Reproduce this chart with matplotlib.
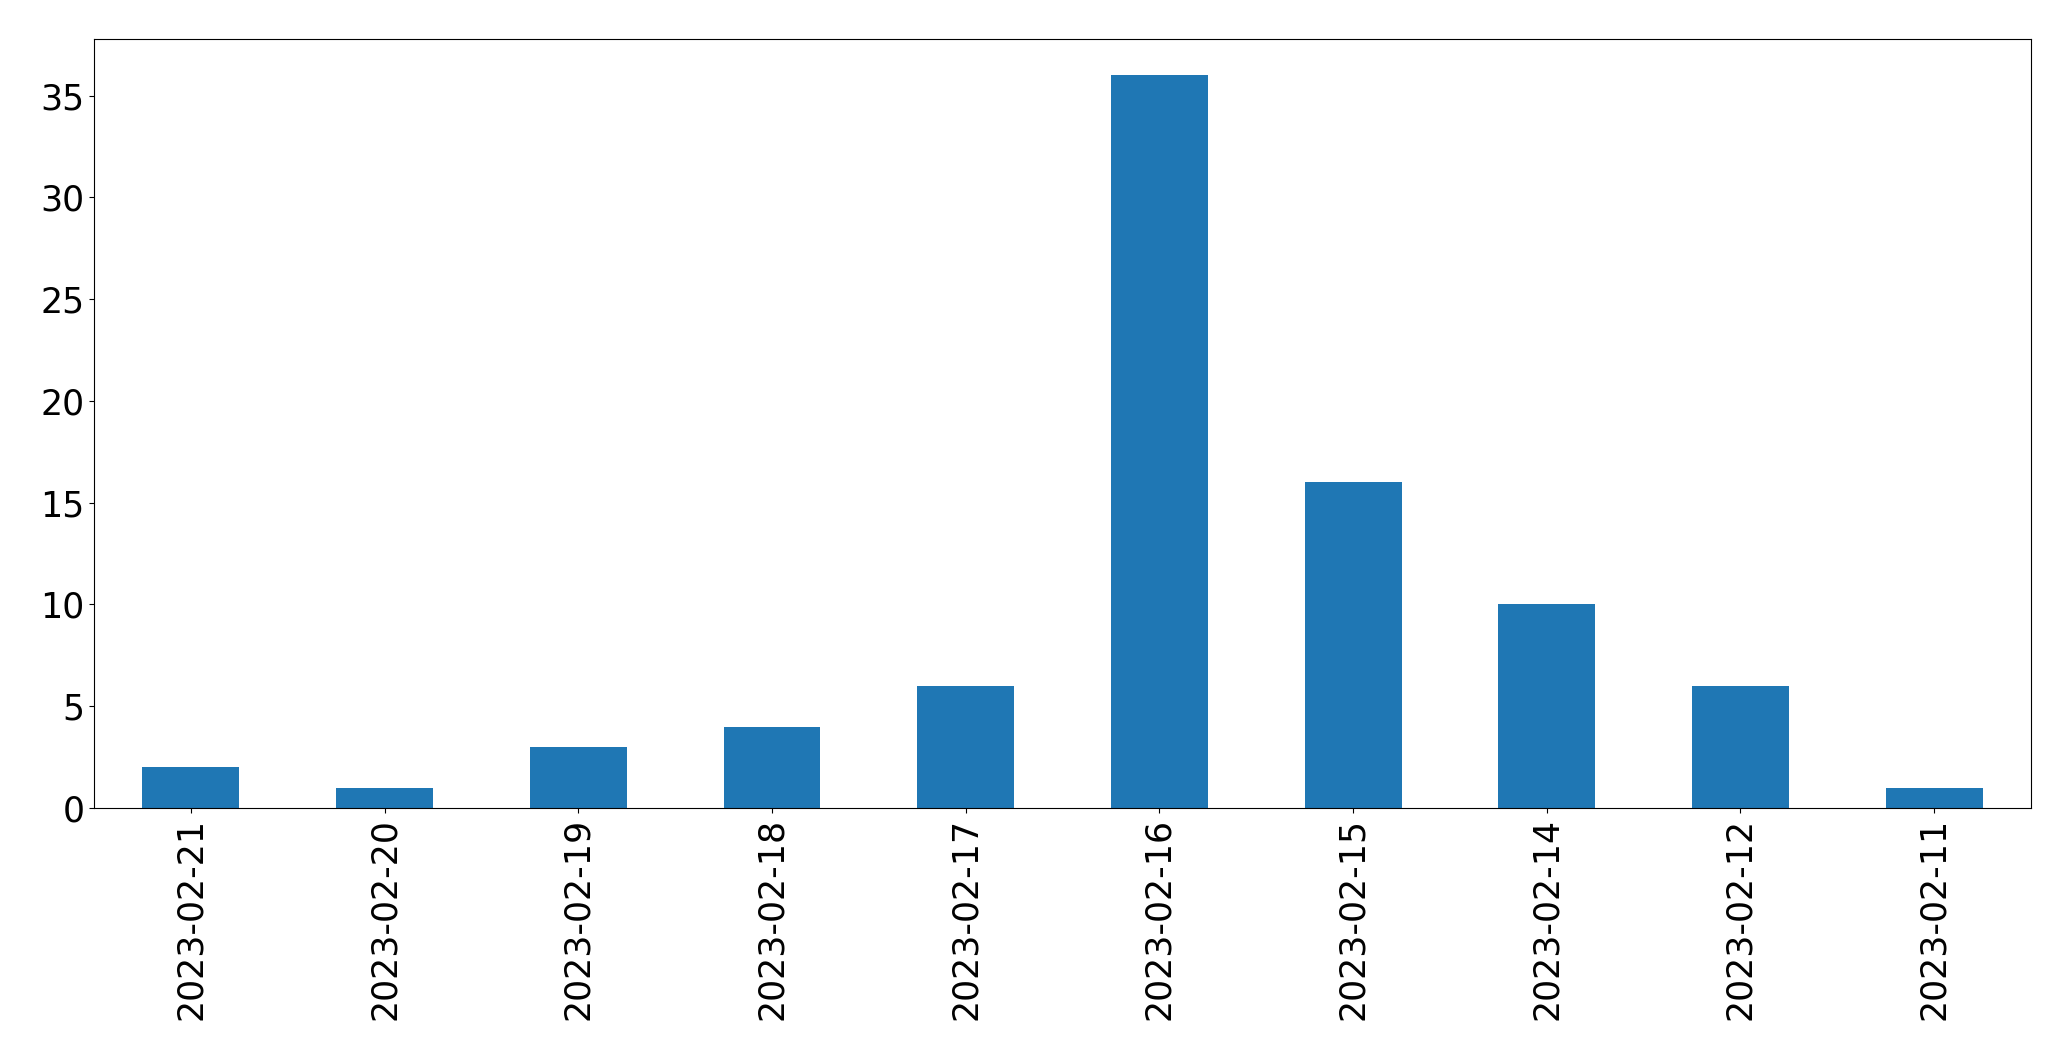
import matplotlib
matplotlib.use("Agg")
import matplotlib.pyplot as plt

dates = ["2023-02-21", "2023-02-20", "2023-02-19", "2023-02-18", "2023-02-17",
         "2023-02-16", "2023-02-15", "2023-02-14", "2023-02-12", "2023-02-11"]
counts = [2, 1, 3, 4, 6, 36, 16, 10, 6, 1]

fig = plt.figure(figsize=(20.71, 10.61), dpi=100)
ax = fig.add_axes([0.0454, 0.2385, 0.9353, 0.7250])

x = range(len(dates))
ax.bar(x, counts, width=0.5, color="#1f77b4")
ax.set_xlim(-0.5, len(dates) - 0.5)
ax.set_ylim(0, max(counts) * 1.05)
ax.set_xticks(list(x))
ax.set_xticklabels(dates, rotation=90)
ax.tick_params(labelsize=25)

fig.savefig("out.png", dpi=100)
